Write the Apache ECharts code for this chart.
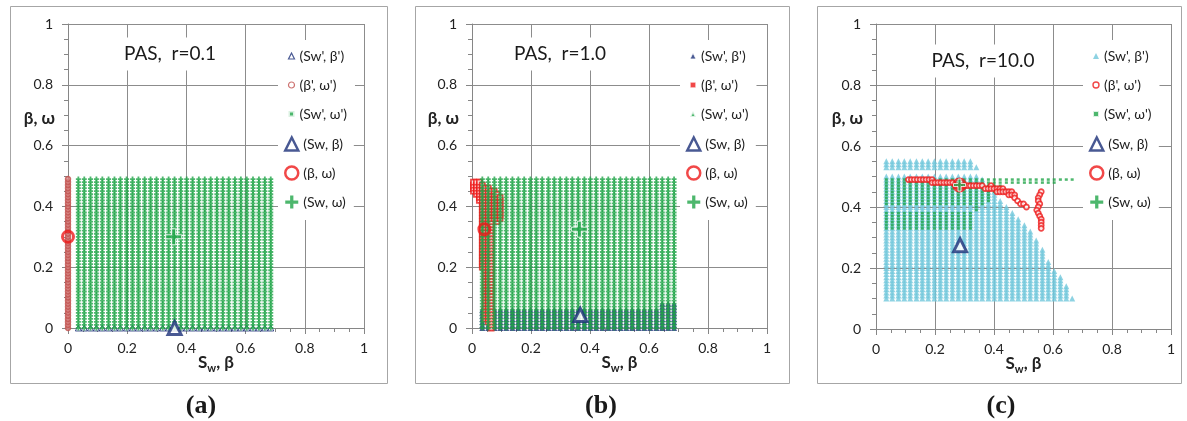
<!DOCTYPE html>
<html lang="en">
<head>
<meta charset="UTF-8">
<title>PAS scatter panels</title>
<script src="https://cdn.jsdelivr.net/npm/echarts@6.0.0/dist/echarts.min.js"></script>
<style>
  html, body { margin: 0; padding: 0; background: #fff; }
  #main { width: 1187px; height: 421px; }
</style>
</head>
<body>
<div id="main"></div>
<script type="text/javascript">
// ---- data ----
const tickLabels = ['0', '0.2', '0.4', '0.6', '0.8', '1'];
const panelTitles = ['PAS,  r=0.1', 'PAS,  r=1.0', 'PAS,  r=10.0'];
const captions = ['a', 'b', 'c'];
const seriesNames = ["(Sw', β')", "(β', ω')", "(Sw', ω')", '(Sw, β)', '(β, ω)', '(Sw, ω)'];

// Sw' columns of the sampled grid
const swCols = [0.035, 0.055, 0.076, 0.096, 0.116, 0.137, 0.157, 0.177, 0.198, 0.218, 0.238,
  0.259, 0.279, 0.299, 0.32, 0.34, 0.36, 0.381, 0.401, 0.421, 0.442, 0.462, 0.482, 0.503,
  0.523, 0.543, 0.564, 0.584, 0.604, 0.625, 0.645, 0.665, 0.685];
// beta' / omega' rows of the sampled grid
const yRows = [0, 0.01, 0.02, 0.03, 0.04, 0.05, 0.06, 0.07, 0.08, 0.09, 0.1, 0.11, 0.12, 0.13,
  0.14, 0.15, 0.16, 0.17, 0.18, 0.19, 0.2, 0.21, 0.22, 0.23, 0.24, 0.25, 0.26, 0.27, 0.28, 0.29,
  0.3, 0.31, 0.32, 0.33, 0.34, 0.35, 0.36, 0.37, 0.38, 0.39, 0.4, 0.41, 0.42, 0.43, 0.44, 0.45,
  0.46, 0.47, 0.48, 0.49, 0.5, 0.51, 0.52, 0.53, 0.54, 0.55];
const omegaMax = 0.49;

// (a) r = 0.1
const aSwBeta = [[0.36, 0]];
const aBetaOmega = [[0, 0.30]];
const aSwOmega = [[0.357, 0.30]];

// (b) r = 1.0
const bNavyTop = [0.06, 0.06, 0.06, 0.06, 0.06, 0.06, 0.06, 0.06, 0.06, 0.06, 0.06, 0.06, 0.06,
  0.06, 0.06, 0.06, 0.06, 0.06, 0.06, 0.06, 0.06, 0.06, 0.06, 0.06, 0.06, 0.06, 0.06, 0.06,
  0.06, 0.06, 0.08, 0.08, 0.08];
// [beta', omega' low, omega' high]
const bRedCols = [
  [0.005, 0.45, 0.48], [0.015, 0.44, 0.48], [0.025, 0.42, 0.48], [0.035, 0.20, 0.47],
  [0.045, 0.03, 0.46], [0.055, 0.02, 0.46], [0.065, 0.00, 0.45], [0.075, 0.36, 0.45],
  [0.085, 0.35, 0.44], [0.095, 0.36, 0.43]
];
const bSwBeta = [[0.367, 0.043]];
const bBetaOmega = [[0.042, 0.325]];
const bSwOmega = [[0.364, 0.325]];

// (c) r = 10.0
const cCyanLow = 0.10;
const cCyanTop = [0.50, 0.50, 0.50, 0.50, 0.50, 0.50, 0.50, 0.50, 0.50, 0.50, 0.50, 0.50, 0.50,
  0.50, 0.50, 0.50, 0.49, 0.47, 0.45, 0.42, 0.40, 0.38, 0.36, 0.34, 0.32, 0.29, 0.26, 0.22,
  0.19, 0.17, 0.14, 0.10, null];
const cBandLow = 0.53;
const cBandTop = [0.55, 0.55, 0.55, 0.55, 0.55, 0.55, 0.55, 0.55, 0.55, 0.55, 0.55, 0.55, 0.55,
  0.55, 0.55, 0.53, null, null, null, null, null, null, null, null, null, null, null, null,
  null, null, null, null, null];
// [Sw' from, Sw' to, omega' low, omega' high]
const cGreenBlocks = [
  [0.035, 0.32, 0.33, 0.38], [0.035, 0.32, 0.41, 0.49], [0.34, 0.34, 0.39, 0.49],
  [0.36, 0.36, 0.41, 0.49], [0.381, 0.381, 0.42, 0.49], [0.401, 0.401, 0.45, 0.49],
  [0.421, 0.421, 0.46, 0.49], [0.442, 0.604, 0.48, 0.49], [0.625, 0.665, 0.49, 0.49]
];
const cRed = [
  [0.11, 0.49], [0.12, 0.49], [0.13, 0.49], [0.14, 0.49], [0.15, 0.49], [0.16, 0.49], [0.17, 0.49],
  [0.18, 0.49], [0.19, 0.49], [0.19, 0.48], [0.20, 0.48], [0.21, 0.48], [0.22, 0.48], [0.23, 0.48],
  [0.24, 0.48], [0.25, 0.48], [0.26, 0.48], [0.27, 0.47], [0.28, 0.47], [0.29, 0.47], [0.30, 0.47],
  [0.31, 0.47], [0.32, 0.47], [0.33, 0.47], [0.34, 0.47], [0.35, 0.47], [0.36, 0.47], [0.37, 0.46],
  [0.38, 0.46], [0.39, 0.47], [0.39, 0.46], [0.40, 0.46], [0.41, 0.46], [0.41, 0.45], [0.42, 0.46],
  [0.42, 0.45], [0.43, 0.46], [0.43, 0.45], [0.44, 0.45], [0.45, 0.45], [0.45, 0.44], [0.46, 0.45],
  [0.46, 0.44], [0.47, 0.44], [0.47, 0.43], [0.48, 0.42], [0.49, 0.41], [0.50, 0.41], [0.51, 0.40],
  [0.56, 0.45], [0.555, 0.44], [0.55, 0.43], [0.55, 0.42], [0.555, 0.41], [0.55, 0.40], [0.545, 0.39],
  [0.55, 0.38], [0.555, 0.37], [0.56, 0.36], [0.56, 0.35], [0.56, 0.34], [0.56, 0.33]
];
const cSwBeta = [[0.285, 0.275]];
const cBetaOmega = [[0.283, 0.472]];
const cSwOmega = [[0.283, 0.472]];

// ---- build point sets from the arrays above ----
const eps = 1e-9;
const rowsIn = (lo, hi) => yRows.filter(y => y >= lo - eps && y <= hi + eps);

const greenFull = [];
swCols.forEach(x => rowsIn(0, omegaMax).forEach(y => greenFull.push([x, y])));

const aNavy = swCols.map(x => [x, 0]);
const aRed = rowsIn(0, omegaMax).map(y => [0, y]);

const bNavy = [];
swCols.forEach((x, i) => rowsIn(0, bNavyTop[i]).forEach(y => bNavy.push([x, y])));
const bRed = [];
bRedCols.forEach(c => rowsIn(c[1], c[2]).forEach(y => bRed.push([c[0], y])));

const cCyan = [];
swCols.forEach((x, i) => {
  if (cCyanTop[i] != null) rowsIn(cCyanLow, cCyanTop[i]).forEach(y => cCyan.push([x, y]));
  if (cBandTop[i] != null) rowsIn(cBandLow, cBandTop[i]).forEach(y => cCyan.push([x, y]));
});
const cGreen = [];
cGreenBlocks.forEach(b => {
  swCols.filter(x => x >= b[0] - eps && x <= b[1] + eps)
    .forEach(x => rowsIn(b[2], b[3]).forEach(y => cGreen.push([x, y])));
});

// ---- styling ----
const navy = '#1b2f78';
const red = '#ee1a1a';
const brick = '#c0504d';
const green = '#20a548';
const cyan = '#70c7db';
const axisGray = '#868686';
const gridGray = '#8c8c8c';
const labelFont = 'Lato';
const plusSmall = 'path://M1.6,0H3.4V1.6H5V3.4H3.4V5H1.6V3.4H0V1.6H1.6Z';
const plusBig = 'path://M6,0H10V6H16V10H10V16H6V10H0V6H6Z';

const gridLayout = [
  { left: 68, top: 24, width: 296, height: 304 },
  { left: 472, top: 24, width: 295, height: 304 },
  { left: 876, top: 24, width: 295, height: 305 }
];

function makeXAxis(i) {
  return {
    type: 'value', gridIndex: i, min: 0, max: 1, interval: 0.2,
    axisLine: { show: true, onZero: false, lineStyle: { color: axisGray, width: 1 } },
    axisTick: { show: true, length: 6, lineStyle: { color: axisGray } },
    minorTick: { show: true, splitNumber: 4, length: 4, lineStyle: { color: axisGray } },
    splitLine: { show: true, lineStyle: { color: gridGray, width: 1 } },
    axisLabel: {
      margin: 13, fontSize: 14, fontFamily: labelFont, color: '#222',
      formatter: v => tickLabels[Math.round(v / 0.2)]
    },
    name: '{s|S}{w|w}{s|, β}', nameLocation: 'middle', nameGap: 24, nameMoveOverlap: false,
    nameTextStyle: {
      color: '#222', fontFamily: labelFont, fontWeight: 'bold',
      rich: {
        s: { fontSize: 17, fontWeight: 'bold', fontFamily: labelFont, color: '#222', lineHeight: 22 },
        w: { fontSize: 11, fontWeight: 'bold', fontFamily: labelFont, color: '#222', lineHeight: 22, verticalAlign: 'bottom' }
      }
    }
  };
}

function makeYAxis(i) {
  return {
    type: 'value', gridIndex: i, min: 0, max: 1, interval: 0.2,
    axisLine: { show: true, onZero: false, lineStyle: { color: axisGray, width: 1 } },
    axisTick: { show: true, length: 6, lineStyle: { color: axisGray } },
    minorTick: { show: true, splitNumber: 4, length: 4, lineStyle: { color: axisGray } },
    splitLine: { show: true, lineStyle: { color: gridGray, width: 1 } },
    axisLabel: {
      margin: 15, fontSize: 14, fontFamily: labelFont, color: '#222',
      formatter: v => tickLabels[Math.round(v / 0.2)]
    },
    // trailing empty lines lift the name above the axis middle
    name: 'β, ω\n\n\n\n\n\n', nameLocation: 'middle', nameRotate: 0, nameGap: 13, nameMoveOverlap: false,
    nameTextStyle: {
      color: '#222', fontFamily: labelFont, fontWeight: 'bold', fontSize: 17, lineHeight: 19.3
    }
  };
}

function scatter(name, gi, data, symbol, size, itemStyle, z) {
  return {
    name: name, type: 'scatter', xAxisIndex: gi, yAxisIndex: gi, data: data,
    symbol: symbol, symbolSize: size, itemStyle: itemStyle, z: z,
    silent: true, emphasis: { disabled: true }, animation: false
  };
}

const hollowNavyBig = { color: '#fff', borderColor: navy, borderWidth: 3 };
const hollowRedBig = { color: 'rgba(0,0,0,0)', borderColor: red, borderWidth: 3 };
const plusBigStyle = { color: green, borderColor: '#fff', borderWidth: 1 };

const series = [
  // (a)
  scatter(seriesNames[0], 0, aNavy, 'triangle', 6, { color: '#fff', borderColor: navy, borderWidth: 1 }, 2),
  scatter(seriesNames[1], 0, aRed, 'circle', 5, { color: '#d98b88', borderColor: brick, borderWidth: 1.5 }, 2),
  scatter(seriesNames[2], 0, greenFull, plusSmall, 5, { color: green }, 3),
  scatter(seriesNames[3], 0, aSwBeta, 'triangle', 13, hollowNavyBig, 5),
  scatter(seriesNames[4], 0, aBetaOmega, 'circle', 11, hollowRedBig, 5),
  scatter(seriesNames[5], 0, aSwOmega, plusBig, 16, plusBigStyle, 6),
  // (b)
  scatter(seriesNames[0], 1, bNavy, 'triangle', 6, { color: navy }, 2),
  scatter(seriesNames[1], 1, bRed, 'rect', 5, { color: '#fff', borderColor: red, borderWidth: 1.8 }, 2),
  scatter(seriesNames[2], 1, greenFull, plusSmall, 5, { color: green }, 3),
  scatter(seriesNames[3], 1, bSwBeta, 'triangle', 13, hollowNavyBig, 5),
  scatter(seriesNames[4], 1, bBetaOmega, 'circle', 11, hollowRedBig, 5),
  scatter(seriesNames[5], 1, bSwOmega, plusBig, 16, plusBigStyle, 6),
  // (c)
  scatter(seriesNames[0], 2, cCyan, 'triangle', 6, { color: cyan }, 2),
  scatter(seriesNames[1], 2, cRed, 'circle', 5, { color: '#fff', borderColor: red, borderWidth: 1.8 }, 4),
  scatter(seriesNames[2], 2, cGreen, 'rect', [3, 2.5], { color: green }, 3),
  scatter(seriesNames[3], 2, cSwBeta, 'triangle', 13, hollowNavyBig, 5),
  scatter(seriesNames[4], 2, cBetaOmega, 'circle', 12, hollowRedBig, 5),
  scatter(seriesNames[5], 2, cSwOmega, plusBig, 12, plusBigStyle, 6)
];

// legend icon looks per panel: [small three, big three]
const legendIcons = [
  [
    { icon: 'triangle', itemStyle: { color: '#fff', borderColor: navy, borderWidth: 1.2 } },
    { icon: 'circle', itemStyle: { color: '#fff', borderColor: brick, borderWidth: 1.2 } },
    { icon: 'rect', itemStyle: { color: green, borderColor: '#fff', borderWidth: 3 } }
  ],
  [
    { icon: 'triangle', itemStyle: { color: navy, borderColor: '#fff', borderWidth: 1 } },
    { icon: 'rect', itemStyle: { color: red, borderColor: '#fff', borderWidth: 1.5 } },
    { icon: 'triangle', itemStyle: { color: green, borderColor: '#fff', borderWidth: 2 } }
  ],
  [
    { icon: 'triangle', itemStyle: { color: cyan, borderColor: '#fff', borderWidth: 0 } },
    { icon: 'circle', itemStyle: { color: '#fff', borderColor: red, borderWidth: 1.4 } },
    { icon: 'rect', itemStyle: { color: green, borderColor: '#fff', borderWidth: 2 } }
  ]
];
const legendBig = [
  { icon: 'triangle', itemStyle: { color: '#fff', borderColor: navy, borderWidth: 2.5 } },
  { icon: 'circle', itemStyle: { color: '#fff', borderColor: red, borderWidth: 2.5 } },
  { icon: plusBig, itemStyle: { color: green, borderWidth: 0 } }
];
const legendLeft = [278, 680, 1083];

const legends = [];
legendLeft.forEach((left, p) => {
  const textStyle = { fontSize: 14, fontFamily: labelFont, color: '#222', lineHeight: 16 };
  legends.push({
    orient: 'vertical', left: left, top: 40, padding: [8, 8, 6, 9],
    itemGap: 13, itemWidth: 6, itemHeight: 6, backgroundColor: '#fff',
    selectedMode: false, textStyle: textStyle,
    data: legendIcons[p].map((d, k) => Object.assign({ name: seriesNames[k] }, d))
  });
  legends.push({
    orient: 'vertical', left: left, top: 128, padding: [8, 8, 10, 6],
    itemGap: 13, itemWidth: 13, itemHeight: 13, backgroundColor: '#fff',
    selectedMode: false, textStyle: textStyle,
    data: legendBig.map((d, k) => Object.assign({ name: seriesNames[k + 3] }, d))
  });
});

const titleCenters = [[170, 54], [560, 54], [983, 61]];
const captionCenters = [201, 601, 1001];
const titles = [];
titleCenters.forEach((c, p) => {
  titles.push({
    text: panelTitles[p], left: c[0] - 8, top: c[1] - 7, padding: [7, 8],
    textAlign: 'center', textVerticalAlign: 'middle', backgroundColor: '#fff',
    textStyle: { fontFamily: labelFont, fontSize: 19, fontWeight: 'normal', color: '#1a1a1a' }
  });
});
captionCenters.forEach((cx, p) => {
  titles.push({
    text: '{p|(}{b|' + captions[p] + '}{p|)}', left: cx, top: 406, padding: 0,
    textAlign: 'center', textVerticalAlign: 'middle',
    textStyle: {
      rich: {
        p: { fontFamily: 'Liberation Serif', fontSize: 26, color: '#1a1a1a' },
        b: { fontFamily: 'Liberation Serif', fontSize: 26, fontWeight: 'bold', color: '#1a1a1a' }
      }
    }
  });
});

// panel frames
const frames = [[10.5, 6.5, 377, 377], [415.5, 6.5, 374, 377], [817.5, 6.5, 364, 377]].map(r => ({
  type: 'rect', silent: true, z: -1,
  shape: { x: r[0], y: r[1], width: r[2], height: r[3] },
  style: { fill: 'none', stroke: '#a6a6a6', lineWidth: 1 }
}));

const myChart = echarts.init(document.getElementById('main'));
const options = {
  animation: false,
  backgroundColor: '#fff',
  title: titles,
  legend: legends,
  grid: gridLayout.map(g => Object.assign({ containLabel: false, outerBoundsMode: 'none' }, g)),
  xAxis: gridLayout.map((g, i) => makeXAxis(i)),
  yAxis: gridLayout.map((g, i) => makeYAxis(i)),
  graphic: frames,
  series: series
};
myChart.setOption(options);
</script>
</body>
</html>
